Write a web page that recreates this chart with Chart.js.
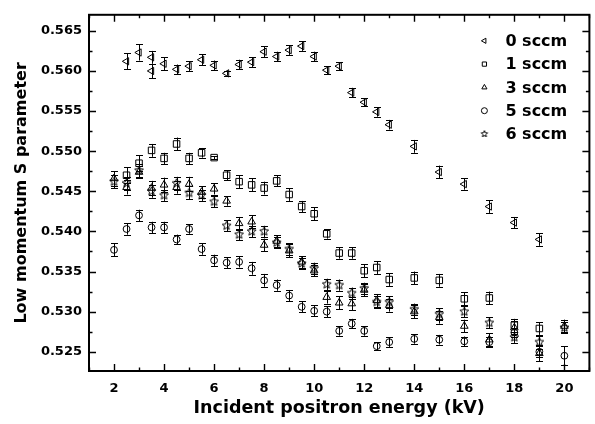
<!DOCTYPE html>
<html>
<head>
<meta charset="utf-8">
<script src="https://cdn.jsdelivr.net/npm/chart.js@4.4.1/dist/chart.umd.min.js"></script>
<style>
  html, body { margin: 0; padding: 0; background: #fff; }
</style>
</head>
<body>
<canvas id="chart" width="595" height="424"></canvas>
<script>
// series (energy in kV, S parameter, error half-width)
const seriesLabels = ['0 sccm', '1 sccm', '3 sccm', '5 sccm', '6 sccm']

const energy0 = [2.5, 3, 3.5, 3.5, 4, 4.5, 5, 5.5, 6, 6.5, 7, 7.5, 8, 8.5, 9, 9.5, 10, 10.5, 11, 11.5, 12, 12.5, 13, 14, 15, 16, 17, 18, 19]
const sParam0 = [0.5612, 0.5623, 0.5617, 0.5600, 0.5609, 0.5602, 0.5606, 0.5614, 0.5607, 0.5597, 0.5608, 0.5611, 0.5624, 0.5618, 0.5626, 0.5631, 0.5618, 0.5601, 0.5606, 0.5573, 0.5561, 0.5549, 0.5533, 0.5506, 0.5474, 0.5459, 0.5431, 0.5411, 0.5390]
const err0 = [0.0010, 0.0010, 0.0008, 0.0009, 0.0008, 0.0006, 0.0006, 0.0007, 0.0006, 0.0003, 0.0006, 0.0006, 0.0007, 0.0006, 0.0006, 0.0006, 0.0006, 0.0005, 0.0005, 0.0006, 0.0005, 0.0006, 0.0006, 0.0008, 0.0008, 0.0007, 0.0008, 0.0007, 0.0008]

const energy1 = [2.5, 3, 3.5, 4, 4.5, 5, 5.5, 6, 6.5, 7, 7.5, 8, 8.5, 9, 9.5, 10, 10.5, 11, 11.5, 12, 12.5, 13, 14, 15, 16, 17, 18, 19]
const sParam1 = [0.5470, 0.5485, 0.5501, 0.5491, 0.5509, 0.5491, 0.5498, 0.5492, 0.5470, 0.5462, 0.5458, 0.5454, 0.5463, 0.5446, 0.5431, 0.5422, 0.5397, 0.5373, 0.5373, 0.5351, 0.5355, 0.5340, 0.5342, 0.5339, 0.5316, 0.5317, 0.5283, 0.5279]
const err1 = [0.0010, 0.0010, 0.0008, 0.0007, 0.0008, 0.0007, 0.0006, 0.0002, 0.0006, 0.0008, 0.0008, 0.0008, 0.0007, 0.0008, 0.0007, 0.0008, 0.0006, 0.0007, 0.0007, 0.0008, 0.0008, 0.0008, 0.0008, 0.0008, 0.0008, 0.0008, 0.0008, 0.0008]

const energy3 = [2, 2.5, 3, 3.5, 4, 4.5, 5, 5.5, 6, 6.5, 7, 7.5, 8, 8.5, 9, 9.5, 10, 10.5, 11, 11.5, 12, 12.5, 13, 14, 15, 16, 17, 18, 19, 20]
const sParam3 = [0.5466, 0.5455, 0.5474, 0.5454, 0.5458, 0.5455, 0.5459, 0.5449, 0.5453, 0.5438, 0.5410, 0.5412, 0.5383, 0.5388, 0.5376, 0.5362, 0.5351, 0.5318, 0.5311, 0.5310, 0.5327, 0.5314, 0.5308, 0.5300, 0.5293, 0.5282, 0.5265, 0.5280, 0.5248, 0.5282]
const err3 = [0.0009, 0.0009, 0.0008, 0.0009, 0.0009, 0.0008, 0.0009, 0.0007, 0.0007, 0.0006, 0.0008, 0.0008, 0.0008, 0.0007, 0.0008, 0.0007, 0.0007, 0.0008, 0.0008, 0.0008, 0.0008, 0.0008, 0.0008, 0.0008, 0.0008, 0.0008, 0.0008, 0.0008, 0.0010, 0.0008]

const energy5 = [2, 2.5, 3, 3.5, 4, 4.5, 5, 5.5, 6, 6.5, 7, 7.5, 8, 8.5, 9, 9.5, 10, 10.5, 11, 11.5, 12, 12.5, 13, 14, 15, 16, 17, 18, 19, 20]
const sParam5 = [0.5377, 0.5403, 0.5420, 0.5405, 0.5405, 0.5390, 0.5403, 0.5378, 0.5364, 0.5361, 0.5362, 0.5354, 0.5339, 0.5333, 0.5320, 0.5306, 0.5301, 0.5300, 0.5276, 0.5285, 0.5276, 0.5257, 0.5262, 0.5266, 0.5265, 0.5263, 0.5262, 0.5274, 0.5250, 0.5245]
const err5 = [0.0008, 0.0007, 0.0007, 0.0007, 0.0007, 0.0006, 0.0006, 0.0007, 0.0007, 0.0007, 0.0007, 0.0008, 0.0008, 0.0007, 0.0007, 0.0007, 0.0007, 0.0007, 0.0006, 0.0006, 0.0006, 0.0005, 0.0006, 0.0006, 0.0006, 0.0006, 0.0006, 0.0006, 0.0007, 0.0012]

const energy6 = [2, 2.5, 3, 3.5, 4, 4.5, 5, 5.5, 6, 6.5, 7, 7.5, 8, 8.5, 9, 9.5, 10, 10.5, 11, 11.5, 12, 12.5, 13, 14, 15, 16, 17, 18, 19, 20]
const sParam6 = [0.5462, 0.5460, 0.5476, 0.5450, 0.5445, 0.5460, 0.5448, 0.5445, 0.5437, 0.5407, 0.5396, 0.5400, 0.5400, 0.5386, 0.5378, 0.5360, 0.5354, 0.5334, 0.5333, 0.5323, 0.5329, 0.5312, 0.5312, 0.5303, 0.5297, 0.5300, 0.5286, 0.5268, 0.5262, 0.5280]
const err6 = [0.0008, 0.0008, 0.0008, 0.0008, 0.0007, 0.0008, 0.0008, 0.0007, 0.0007, 0.0007, 0.0007, 0.0007, 0.0007, 0.0007, 0.0007, 0.0007, 0.0007, 0.0007, 0.0007, 0.0007, 0.0007, 0.0007, 0.0007, 0.0007, 0.0007, 0.0007, 0.0007, 0.0007, 0.0008, 0.0007]

const xTicks = [2, 4, 6, 8, 10, 12, 14, 16, 18, 20]
const yTicks = [0.525, 0.530, 0.535, 0.540, 0.545, 0.550, 0.555, 0.560, 0.565]

const boldFont = '"DejaVu Sans", sans-serif'

// open five-pointed star marker
function starMarker(r) {
  const size = Math.ceil(r * 2 + 3)
  const c = document.createElement('canvas')
  c.width = size
  c.height = size
  const g = c.getContext('2d')
  g.strokeStyle = '#000'
  g.lineWidth = 1
  g.beginPath()
  for (let i = 0; i < 10; i++) {
    const rr = i % 2 ? r * 0.45 : r
    const a = -Math.PI / 2 + i * Math.PI / 5
    const px = size / 2 + rr * Math.cos(a)
    const py = size / 2 + rr * Math.sin(a)
    if (i) g.lineTo(px, py)
    else g.moveTo(px, py)
  }
  g.closePath()
  g.stroke()
  return c
}

function points(xs, ys) {
  return xs.map((x, i) => ({ x: x, y: ys[i] }))
}

const markers = [
  { pointStyle: 'triangle', rotation: -90, radius: 4.2 },
  { pointStyle: 'rect', rotation: 0, radius: 4.6 },
  { pointStyle: 'triangle', rotation: 0, radius: 4.4 },
  { pointStyle: 'circle', rotation: 0, radius: 3.4 },
  { pointStyle: starMarker(4.6), rotation: 0, radius: 4.6 }
]

const seriesData = [
  points(energy0, sParam0),
  points(energy1, sParam1),
  points(energy3, sParam3),
  points(energy5, sParam5),
  points(energy6, sParam6)
]
const seriesErr = [err0, err1, err3, err5, err6]

const datasets = seriesLabels.map((label, i) => ({
  label: label,
  data: seriesData[i],
  errors: seriesErr[i],
  showLine: false,
  pointStyle: markers[i].pointStyle,
  rotation: markers[i].rotation,
  pointRadius: markers[i].radius,
  pointBorderWidth: 1,
  pointBorderColor: '#000',
  pointBackgroundColor: 'rgba(0,0,0,0)'
}))

// vertical error bars with caps
const errorBars = {
  id: 'errorBars',
  afterDatasetsDraw(chart) {
    const ctx = chart.ctx
    const y = chart.scales.y
    ctx.save()
    ctx.strokeStyle = '#000'
    ctx.lineWidth = 1
    chart.data.datasets.forEach((ds, i) => {
      const meta = chart.getDatasetMeta(i)
      meta.data.forEach((pt, j) => {
        const e = ds.errors[j]
        const v = ds.data[j].y
        const top = y.getPixelForValue(v + e)
        const bot = y.getPixelForValue(v - e)
        const px = Math.round(pt.x) + 0.5
        ctx.beginPath()
        ctx.moveTo(px, top)
        ctx.lineTo(px, bot)
        ctx.moveTo(px - 3.5, Math.round(top) + 0.5)
        ctx.lineTo(px + 3.5, Math.round(top) + 0.5)
        ctx.moveTo(px - 3.5, Math.round(bot) + 0.5)
        ctx.lineTo(px + 3.5, Math.round(bot) + 0.5)
        ctx.stroke()
      })
    })
    ctx.restore()
  }
}

// closed frame with inward major and minor ticks on all sides
const frameTicks = {
  id: 'frameTicks',
  afterDraw(chart) {
    const { ctx, chartArea: a, scales: { x, y } } = chart
    ctx.save()
    ctx.strokeStyle = '#000'
    ctx.lineWidth = 2
    ctx.strokeRect(a.left, a.top, a.right - a.left, a.bottom - a.top)
    ctx.lineWidth = 1.4
    ctx.beginPath()
    const xStep = xTicks[1] - xTicks[0]
    const xAll = []
    xTicks.forEach(v => { xAll.push([v, 7]); xAll.push([v - xStep / 2, 3.5]) })
    xAll.push([xTicks[xTicks.length - 1] + xStep / 2, 3.5])
    xAll.forEach(([v, len]) => {
      const px = Math.round(x.getPixelForValue(v)) + 0.5
      ctx.moveTo(px, a.bottom)
      ctx.lineTo(px, a.bottom - len)
      ctx.moveTo(px, a.top)
      ctx.lineTo(px, a.top + len)
    })
    const yStep = yTicks[1] - yTicks[0]
    const yAll = []
    yTicks.forEach(v => { yAll.push([v, 7]); yAll.push([v + yStep / 2, 3.5]) })
    yAll.forEach(([v, len]) => {
      if (v > y.max) return
      const py = Math.round(y.getPixelForValue(v)) + 0.5
      ctx.moveTo(a.left, py)
      ctx.lineTo(a.left + len, py)
      ctx.moveTo(a.right, py)
      ctx.lineTo(a.right - len, py)
    })
    ctx.stroke()
    ctx.restore()
  }
}

// legend in the upper right corner of the plot
const cornerLegend = {
  id: 'cornerLegend',
  afterDraw(chart) {
    const { ctx, chartArea: a } = chart
    ctx.save()
    ctx.font = 'bold 16px ' + boldFont
    ctx.textBaseline = 'middle'
    chart.data.datasets.forEach((ds, i) => {
      const cy = a.top + 26 + i * 23.3
      const mx = a.right - 105
      ctx.strokeStyle = '#000'
      ctx.fillStyle = 'rgba(0,0,0,0)'
      ctx.lineWidth = 1
      Chart.helpers.drawPoint(ctx, {
        pointStyle: i === 4 ? starMarker(3.4) : ds.pointStyle,
        rotation: ds.rotation,
        radius: i === 4 ? 3.4 : 3,
        borderWidth: 1
      }, mx, cy)
      ctx.fillStyle = '#000'
      ctx.fillText(ds.label, a.right - 84, cy + 1)
    })
    ctx.restore()
  }
}

new Chart(document.getElementById('chart'), {
  type: 'scatter',
  data: { datasets: datasets },
  options: {
    responsive: false,
    animation: false,
    layout: { padding: { top: 11, right: 4, left: 0, bottom: 0 } },
    plugins: {
      legend: { display: false },
      tooltip: { enabled: false }
    },
    scales: {
      x: {
        type: 'linear',
        min: 1,
        max: 21,
        afterBuildTicks: s => { s.ticks = xTicks.map(v => ({ value: v })) },
        afterFit: s => { s.height = 53 },
        grid: { display: false, drawTicks: false },
        border: { display: false },
        ticks: {
          padding: 10,
          color: '#000',
          font: { family: boldFont, size: 13, weight: 'bold' }
        },
        title: {
          display: true,
          text: 'Incident positron energy (kV)',
          color: '#000',
          padding: { top: 0, bottom: 5 },
          font: { family: boldFont, size: 17.5, weight: 'bold' }
        }
      },
      y: {
        type: 'linear',
        min: 0.5226,
        max: 0.567,
        afterBuildTicks: s => { s.ticks = yTicks.map(v => ({ value: v })) },
        afterFit: s => { s.width = 89 },
        grid: { display: false, drawTicks: false },
        border: { display: false },
        ticks: {
          padding: 7,
          color: '#000',
          font: { family: boldFont, size: 13, weight: 'bold' },
          callback: v => v.toFixed(3)
        },
        title: {
          display: true,
          text: 'Low momentum S parameter',
          color: '#000',
          padding: { top: 12, bottom: 0 },
          font: { family: boldFont, size: 16, weight: 'bold' }
        }
      }
    }
  },
  plugins: [errorBars, frameTicks, cornerLegend]
})
</script>
</body>
</html>
